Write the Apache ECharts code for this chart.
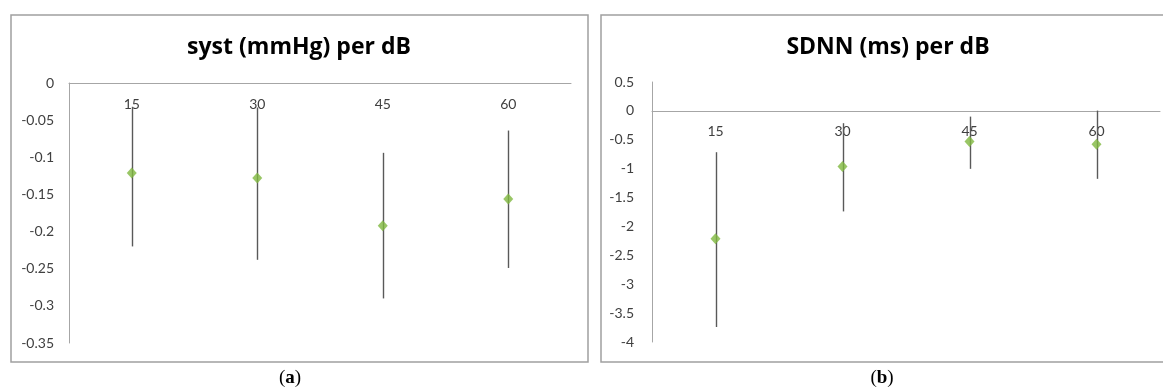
<!DOCTYPE html>
<html>
<head>
<meta charset="utf-8">
<script src="https://cdn.jsdelivr.net/npm/echarts@6/dist/echarts.min.js"></script>
<style>
  html, body { margin: 0; padding: 0; background: #fff; }
  #chart { width: 1163px; height: 392px; }
</style>
</head>
<body>
<div id="chart"></div>
<script>
// Exposure levels (dB) on the category axis
const categories = ['15', '30', '45', '60'];

// Panel (a): systolic pressure change per dB, estimate with interval
const systMean = [-0.121, -0.128, -0.192, -0.156];
const systLow  = [-0.220, -0.238, -0.290, -0.249];
const systHigh = [-0.032, -0.033, -0.094, -0.064];

// Panel (b): SDNN change per dB, estimate with interval
const sdnnMean = [-2.215, -0.963, -0.530, -0.576];
const sdnnLow  = [-3.740, -1.740, -1.003, -1.176];
const sdnnHigh = [-0.715, -0.213, -0.099, 0.005];

// Value-axis settings for each panel
const systAxis = { min: -0.35, max: 0, interval: 0.05 };
const sdnnAxis = { min: -4, max: 0.5, interval: 0.5 };

const FONT = 'Lato, "Open Sans", sans-serif';
const AXIS_GRAY = '#a6a6a6';
const BAR_GRAY = '#595959';
const GREEN = '#7fb83f';

const GRID_H = 260;

function errorBarSeries(xIdx, low, high) {
  return {
    type: 'custom',
    xAxisIndex: xIdx,
    yAxisIndex: xIdx,
    z: 2,
    silent: true,
    encode: { x: 0, y: [1, 2] },
    data: categories.map((c, i) => [i, low[i], high[i]]),
    renderItem: function (params, api) {
      const x = api.value(0);
      const p1 = api.coord([x, api.value(1)]);
      const p2 = api.coord([x, api.value(2)]);
      return {
        type: 'line',
        shape: { x1: Math.round(p1[0]) + 0.5, y1: p1[1], x2: Math.round(p2[0]) + 0.5, y2: p2[1] },
        style: { stroke: BAR_GRAY, lineWidth: 1.4 }
      };
    }
  };
}

function markerSeries(xIdx, values) {
  return {
    type: 'scatter',
    xAxisIndex: xIdx,
    yAxisIndex: xIdx,
    z: 3,
    symbol: 'diamond',
    symbolSize: [10, 11],
    itemStyle: { color: GREEN },
    data: values
  };
}

// Category axis drawn along the zero line, labels hanging below it
function xAxisFor(gridIndex, cfg) {
  const zeroOffset = -GRID_H * (cfg.max - 0) / (cfg.max - cfg.min);
  return {
    type: 'category',
    gridIndex: gridIndex,
    data: categories,
    position: 'top',
    offset: zeroOffset,
    boundaryGap: true,
    axisLine: { onZero: false, lineStyle: { color: AXIS_GRAY, width: 1 } },
    axisTick: { show: false },
    axisLabel: { inside: true, color: '#404040', fontFamily: FONT, fontSize: 14, margin: 14 },
    splitLine: { show: false }
  };
}

function yAxisFor(gridIndex, cfg, margin) {
  return {
    type: 'value',
    gridIndex: gridIndex,
    min: cfg.min,
    max: cfg.max,
    interval: cfg.interval,
    axisLine: { show: true, onZero: false, lineStyle: { color: AXIS_GRAY, width: 1 } },
    axisTick: { show: false },
    splitLine: { show: false },
    axisLabel: { color: '#404040', fontFamily: FONT, fontSize: 14, margin: margin }
  };
}

const captionStyle = function (letter, x) {
  return {
    type: 'text', x: x, y: 378, silent: true,
    style: {
      text: '(' + '{b|' + letter + '})',
      fill: '#000', fontFamily: '"Liberation Serif", "DejaVu Serif", serif',
      fontSize: 19, align: 'center', verticalAlign: 'middle',
      rich: { b: { fontWeight: 'bold', fontSize: 19, fontFamily: '"Liberation Serif", "DejaVu Serif", serif' } }
    }
  };
};

const chart = echarts.init(document.getElementById('chart'), null, { renderer: 'canvas' });

chart.setOption({
  animation: false,
  backgroundColor: '#ffffff',
  grid: [
    { left: 69, top: 83, width: 502, height: GRID_H },
    { left: 652, top: 82, width: 508, height: GRID_H }
  ],
  xAxis: [xAxisFor(0, systAxis), xAxisFor(1, sdnnAxis)],
  yAxis: [yAxisFor(0, systAxis, 15), yAxisFor(1, sdnnAxis, 18)],
  series: [
    errorBarSeries(0, systLow, systHigh),
    markerSeries(0, systMean),
    errorBarSeries(1, sdnnLow, sdnnHigh),
    markerSeries(1, sdnnMean)
  ],
  graphic: [
    {
      type: 'rect', silent: true, z: 0,
      shape: { x: 11, y: 15, width: 577, height: 347 },
      style: { fill: 'none', stroke: '#a0a0a0', lineWidth: 1.5 }
    },
    {
      type: 'rect', silent: true, z: 0,
      shape: { x: 601, y: 15, width: 570, height: 347 },
      style: { fill: 'none', stroke: '#a0a0a0', lineWidth: 1.5 }
    },
    {
      type: 'text', x: 299, y: 47, silent: true,
      style: {
        text: 'syst (mmHg) per dB', fill: '#000', fontFamily: '"Open Sans", Lato, sans-serif',
        fontWeight: 'bold', fontSize: 23, align: 'center', verticalAlign: 'middle'
      }
    },
    {
      type: 'text', x: 888, y: 47, silent: true,
      style: {
        text: 'SDNN (ms) per dB', fill: '#000', fontFamily: '"Open Sans", Lato, sans-serif',
        fontWeight: 'bold', fontSize: 23, align: 'center', verticalAlign: 'middle'
      }
    },
    captionStyle('a', 290),
    captionStyle('b', 882)
  ]
});
</script>
</body>
</html>
